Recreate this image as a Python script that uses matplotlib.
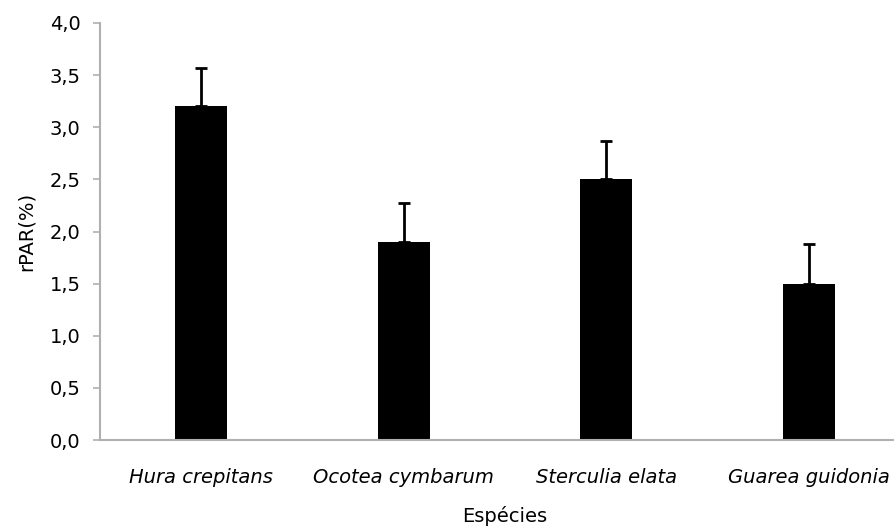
import numpy as np
import matplotlib
matplotlib.use("Agg")
import matplotlib.pyplot as plt

# Donnees
especies = ["Hura crepitans", "Ocotea cymbarum", "Sterculia elata", "Guarea guidonia"]
rpar = [3.2, 1.9, 2.5, 1.5]
erro = [0.37, 0.37, 0.37, 0.38]
yticks = [0.0, 0.5, 1.0, 1.5, 2.0, 2.5, 3.0, 3.5, 4.0]

plt.rcParams['font.family'] = ['DejaVu Sans']
plt.rcParams['font.size'] = 14

fig = plt.figure(figsize=(8.94, 5.29), dpi=100)
ax = fig.add_axes([100/894, 1 - 440/529, 810/894, (440 - 23)/529])

x = np.arange(len(especies))
ax.bar(x, rpar, width=0.255, color='black', zorder=2)
ax.errorbar(x, rpar, yerr=[np.zeros(len(erro)), erro], fmt='none',
            ecolor='black', elinewidth=2, capsize=4, capthick=2, zorder=3)

ax.set_xlim(-0.5, 3.5)
ax.set_ylim(0, 4.0)
ax.set_yticks(yticks)
ax.set_yticklabels([f"{v:.1f}".replace('.', ',') for v in yticks])
ax.set_xticks(x)
ax.set_xticklabels(especies, style='italic')

for s in ['top', 'right']:
    ax.spines[s].set_visible(False)
for s in ['left', 'bottom']:
    ax.spines[s].set_color('#b0b0b0')
    ax.spines[s].set_linewidth(1.5)
ax.tick_params(axis='y', direction='out', length=5, width=1.2, color='#b0b0b0', pad=9)
ax.tick_params(axis='x', length=0, pad=20)

ax.set_ylabel("rPAR(%)", labelpad=10)
ax.set_xlabel("Espécies", labelpad=14)

fig.savefig("out.png", dpi=100)
